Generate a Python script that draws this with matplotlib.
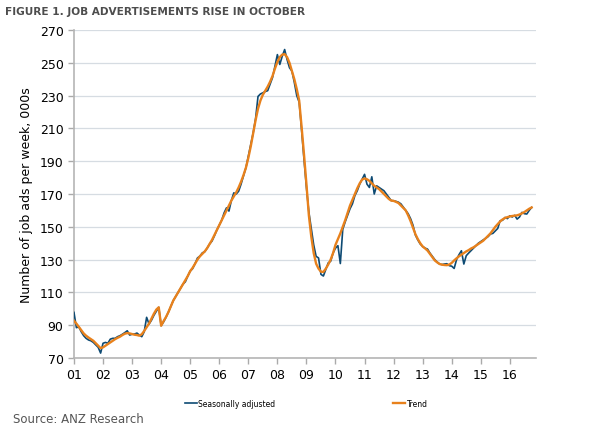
import numpy as np
import matplotlib
matplotlib.use("Agg")
import matplotlib.pyplot as plt

# monthly, Jan 2001 - Oct 2016
seas_adj = [
    97.8, 88.5, 89, 86, 83.6, 82, 81, 80.5, 79.5, 78, 76.5, 73,
    79, 79.5, 79, 81.5, 82, 82, 83, 83.6, 84.5, 85.5, 86.6, 84,
    84.5, 84.6, 85.2, 84, 83, 86, 94.8, 90.7, 93, 96, 98.5, 100.9,
    89.7, 92, 94.8, 98, 101.5, 105, 107.5, 110, 112.5, 115, 116.5, 120,
    123, 124.5, 127.5, 131, 132.1, 134.1, 134.8, 137, 139.5, 141.3, 144.5, 148,
    151, 154, 158.5, 161.6, 159.6, 166, 170.7, 170, 171.7, 176, 180.9, 186,
    193, 200, 207.3, 216, 229.5, 231, 231.7, 232.5, 233, 237, 241, 248,
    255, 249, 254, 258.1, 252, 247, 245, 238, 230, 226, 209, 191,
    174, 159, 149, 139, 132, 131, 121, 120, 124, 128, 129, 134,
    137, 138.5, 127.6, 148.4, 153, 157, 161, 164, 169, 172, 176, 179,
    182, 176, 174, 180.5, 170, 175, 174, 173, 172, 170, 168, 166,
    165.9, 165.5, 165, 164, 162, 160, 158, 155, 151, 145, 142, 139.5,
    138, 137, 136.4, 134, 132, 130, 128.5, 127.3, 127, 127.3, 127.5, 126.3,
    126, 124.6, 130, 133, 135.4, 127.3, 132.4, 134, 135.5, 137, 138.5, 140,
    141, 142, 143, 144, 145.6, 146, 147.5, 149, 153.7, 154, 155.7, 155,
    156.7, 156, 157, 154.7, 156, 158.8, 158, 157.8, 160, 161.8,
]

trend = [
    92.7, 91, 89, 87, 85, 83.6, 82.5, 81.5, 80.5, 79, 77.5, 76,
    76.5, 77.5, 78.5, 79.5, 80.5, 81.5, 82.3, 83, 84, 84.8, 85.2, 85,
    84.6, 84.2, 84, 83.6, 84.5, 86.5, 88.7, 91, 94, 97, 99.5, 100.9,
    89.7, 92.5, 95, 98, 101.5, 105, 107.5, 110, 112.5, 115, 117.5, 120,
    123, 125, 127.5, 130, 132, 133.5, 135, 137, 139.5, 142, 145, 148,
    151, 154, 157, 160, 163, 166, 168.5, 171, 174, 177.5, 181.5, 186,
    192, 199, 207, 215, 222, 227, 230.5, 233, 235.5, 238.5, 242, 246.5,
    250.5, 253.5, 255, 255.3, 253.5, 250, 245, 240, 234, 227, 211, 194,
    176, 157, 144, 134, 127.5, 124.5, 122.6, 122.5, 124.5, 127, 130, 134,
    139, 142.5, 146, 150, 154, 158.5, 163, 166.5, 170, 173.5, 176.5, 178.8,
    179.5, 179, 178, 176.5, 175, 174, 173, 171.5, 170, 168.5, 167, 166,
    165.8, 165.2, 164.5, 163, 161.5, 160, 157, 153.5, 149.5, 145.5, 142.5, 140,
    138, 136.8, 135.5, 133.5, 131.5, 129.5, 128.3, 127.3, 126.9, 126.7, 126.6, 127,
    128, 129.5, 130.8, 132, 133, 134, 135, 135.8, 136.8, 137.5, 138.5, 139.5,
    140.5, 141.5, 143, 144.5, 146, 148, 150, 151.7, 153.3, 154.5, 155.4, 155.9,
    156.3, 156.6, 156.8, 157, 157.5, 158.2, 159, 160, 161, 161.8,
]

years = list(range(2001, 2017))
year_labels = ["%02d" % (y % 100) for y in years]
y_ticks = list(range(70, 271, 20))

x = 2001 + np.arange(len(seas_adj)) / 12.0

fig = plt.figure(figsize=(5.89, 4.35), dpi=100)
ax = fig.add_axes([0.1256, 0.1747, 0.7844, 0.754])

ax.plot(x, seas_adj, color="#0d4a73", lw=1.2, label="Seasonally adjusted", zorder=3)
ax.plot(x, trend, color="#e8811c", lw=1.7, label="Trend", zorder=4)

ax.set_xlim(2001, 2016.9)
ax.set_ylim(70, 270)
ax.set_xticks(years)
ax.set_xticklabels(year_labels)
ax.set_yticks(y_ticks)
ax.tick_params(axis="both", labelsize=9, colors="#aaaaaa", labelcolor="black", length=4, width=1)
ax.tick_params(axis="x", pad=3)
ax.grid(axis="y", color="#d6dce2", lw=0.9)
ax.set_axisbelow(True)
for side in ["top", "right"]:
    ax.spines[side].set_visible(False)
for side in ["left", "bottom"]:
    ax.spines[side].set_color("#b5b5b5")
    ax.spines[side].set_linewidth(1.2)

ax.set_ylabel("Number of job ads per week, 000s", fontsize=9, labelpad=5)

fig.text(0.009, 0.972, "FIGURE 1. JOB ADVERTISEMENTS RISE IN OCTOBER", fontsize=7.6,
         fontweight="bold", color="#4d4d4d", va="center")
fig.text(0.022, 0.035, "Source: ANZ Research", fontsize=8.5, color="#555555", va="center")

fig.legend(loc="center", bbox_to_anchor=(0.52, 0.071), ncol=2, frameon=False,
           fontsize=5.5, handlelength=1.6, handletextpad=0.15, columnspacing=15.4)

fig.savefig("out.png", dpi=100)
